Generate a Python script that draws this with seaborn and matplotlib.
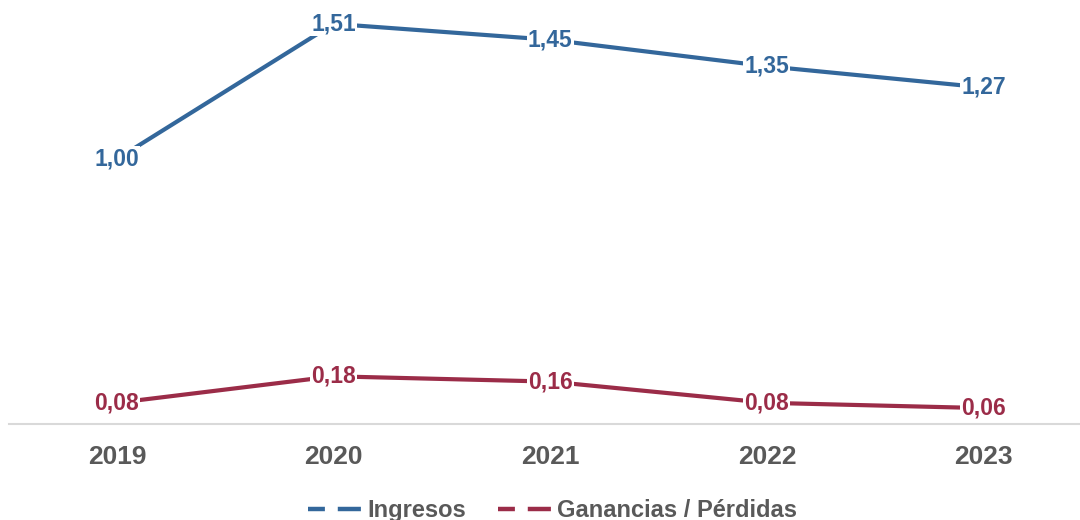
import numpy as np
import pandas as pd
import seaborn as sns
import matplotlib
matplotlib.use('Agg')
import matplotlib.pyplot as plt
from matplotlib.lines import Line2D

years = ['2019', '2020', '2021', '2022', '2023']
ingresos = [1.00, 1.51, 1.45, 1.35, 1.27]
ganancias = [0.08, 0.18, 0.16, 0.08, 0.06]
series_names = ['Ingresos', 'Ganancias / Pérdidas']
colors = ['#33679b', '#9b2c48']

df = pd.DataFrame({
    'year': years * 2,
    'value': ingresos + ganancias,
    'serie': [series_names[0]] * 5 + [series_names[1]] * 5,
})

sns.set_style('white')
plt.rcParams['font.family'] = ['Liberation Sans', 'DejaVu Sans']

fig = plt.figure(figsize=(10.8, 5.2), dpi=100)
ax = fig.add_axes([0.008, 0.1846, 1.003, 0.8154])

sns.lineplot(data=df, x='year', y='value', hue='serie', palette=colors,
             linewidth=3.0, ax=ax, legend=False, sort=False)

for vals, c in zip([ingresos, ganancias], colors):
    for i, v in enumerate(vals):
        ax.text(i, v, f'{v:.2f}'.replace('.', ','), ha='center', va='center',
                fontsize=16.5, fontweight='bold', color=c, zorder=5,
                bbox=dict(boxstyle='square,pad=0.05', fc='white', ec='none'))

ax.set_xlim(-0.5, 4.5)
ax.set_ylim(0, 1.6)
ax.set_xlabel('')
ax.set_ylabel('')
ax.set_yticks([])
for s in ['top', 'left', 'right']:
    ax.spines[s].set_visible(False)
ax.spines['bottom'].set_color('#d9d9d9')
ax.spines['bottom'].set_linewidth(1.5)
ax.tick_params(axis='x', length=0, pad=15, labelsize=19, labelcolor='#595959')
for t in ax.get_xticklabels():
    t.set_fontweight('bold')

# dash pattern like the office-style legend key
handles = [Line2D([0], [0], color=c, lw=3.2, linestyle=(0, (3.8, 2.9, 5.2, 10)))
           for c in colors]
leg = fig.legend(handles, series_names, loc='lower center', bbox_to_anchor=(0.5116, -0.045),
                 ncol=2, frameon=False, fontsize=17, handlelength=2.3,
                 handletextpad=0.2, columnspacing=1.35)
for t in leg.get_texts():
    t.set_color('#595959')
    t.set_fontweight('bold')

fig.savefig('out.png', dpi=100)
